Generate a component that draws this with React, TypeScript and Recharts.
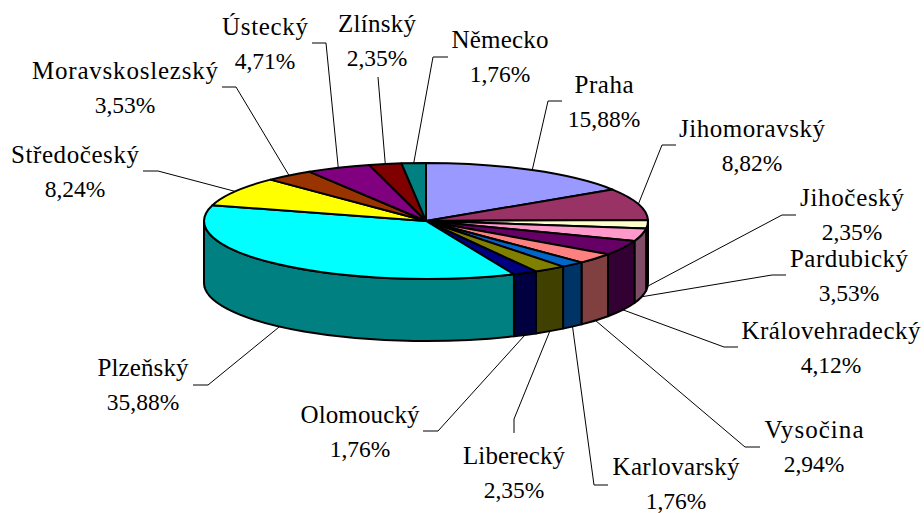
import React from 'react';
import { PieChart, Pie } from 'recharts';

const regions = ['Praha','Jihomoravský','Jihočeský','Pardubický','Královehradecký','Vysočina','Karlovarský','Liberecký','Olomoucký','Plzeňský','Středočeský','Moravskoslezský','Ústecký','Zlínský','Německo'];
const shares = [15.88,8.82,2.35,3.53,4.12,2.94,1.76,2.35,1.76,35.88,8.24,3.53,4.71,2.35,1.76];
const topColors = ['#9999FF','#993366','#FFFFCC','#FF99CC','#660066','#FF8080','#0066CC','#808000','#000080','#00FFFF','#FFFF00','#993300','#800080','#800000','#008080'];
const wallColors = ['#4D4D80','#4D1A33','#808066','#804D66','#330033','#804040','#003366','#404000','#000040','#008080','#808000','#4D1A00','#400040','#400000','#004040'];

// Label placement: text centre x, first baseline y, name width, leader-line bend points
const labelLayout = [
  { x: 604, y: 93, w: 59, pts: [[562,101],[548,101]] },
  { x: 752, y: 137, w: 146, pts: [[676,145],[662,145]] },
  { x: 852, y: 206, w: 104, pts: [[796,215],[782,215]] },
  { x: 849, y: 267, w: 118, pts: [[786,275],[772,275]] },
  { x: 831, y: 339, w: 179, pts: [[738,347],[724,347]] },
  { x: 814, y: 438, w: 99, pts: [[760,447],[745,447]] },
  { x: 676, y: 475, w: 127, pts: [[608,485],[594,485]] },
  { x: 514, y: 464, w: 102, pts: [[514,433],[514,419]] },
  { x: 360, y: 423, w: 119, pts: [[423,431],[438,431]] },
  { x: 143, y: 376, w: 91, pts: [[193,385],[208,385]] },
  { x: 75, y: 163, w: 128, pts: [[143,171],[158,171]] },
  { x: 125, y: 79, w: 186, pts: [[222,87],[236,87]] },
  { x: 265, y: 35, w: 86, pts: [[312,43],[326,43]] },
  { x: 377, y: 32, w: 78, pts: [[378,77]] },
  { x: 500, y: 48, w: 97, pts: [[448,57],[433,57]] },
];

const tableData = regions.map((name, i) => ({
  name,
  value: shares[i],
  fill: topColors[i],
  wall: wallColors[i],
  idx: i,
}));

const SQUASH = 58 / 222;
const DEPTH = 62;
const FONT = '"Liberation Serif", "Times New Roman", serif';

const pt = (cx: number, cy: number, rx: number, ry: number, deg: number) => {
  const a = (deg * Math.PI) / 180;
  return [cx + rx * Math.cos(a), cy - ry * Math.sin(a)];
};

const Slice3D = (props: any) => {
  const { cx, cy, outerRadius, startAngle, endAngle, fill, payload } = props;
  const rx = outerRadius;
  const ry = outerRadius * SQUASH;
  const hi = Math.max(startAngle, endAngle);
  const lo = Math.min(startAngle, endAngle);
  const [sx, sy] = pt(cx, cy, rx, ry, hi);
  const [ex, ey] = pt(cx, cy, rx, ry, lo);
  const large = hi - lo > 180 ? 1 : 0;
  const top = `M${cx},${cy} L${sx},${sy} A${rx},${ry} 0 ${large} 1 ${ex},${ey} Z`;
  const wHi = Math.min(hi, 0);
  const wLo = Math.max(lo, -180);
  let wall = null;
  if (wHi > wLo) {
    const [ax, ay] = pt(cx, cy, rx, ry, wHi);
    const [bx, by] = pt(cx, cy, rx, ry, wLo);
    const d = `M${ax},${ay} A${rx},${ry} 0 0 1 ${bx},${by} L${bx},${by + DEPTH} A${rx},${ry} 0 0 0 ${ax},${ay + DEPTH} Z`;
    wall = <path d={d} fill={payload?.wall ?? props.wall} stroke="#000" strokeWidth={2} strokeLinejoin="round" />;
  }
  return (
    <g>
      {wall}
      <path d={top} fill={fill} stroke="#000" strokeWidth={2} strokeLinejoin="round" />
    </g>
  );
};

const SliceLabel = (props: any) => {
  const { cx, cy, outerRadius, midAngle, index } = props;
  const layout = labelLayout[index];
  const rx = outerRadius;
  const ry = outerRadius * SQUASH;
  const [mx, my0] = pt(cx, cy, rx, ry, midAngle);
  const my = Math.sin((midAngle * Math.PI) / 180) < 0 ? my0 + DEPTH : my0;
  const points = [...layout.pts, [mx, my]].map((p) => p.join(',')).join(' ');
  return (
    <g>
      <polyline points={points} fill="none" stroke="#000" strokeWidth={1} />
      <text x={layout.x} y={layout.y} textAnchor="middle" fontFamily={FONT} fontSize={25} fill="#000" textLength={layout.w} lengthAdjust="spacing">
        {regions[index]}
      </text>
      <text x={layout.x} y={layout.y + 34} textAnchor="middle" fontFamily={FONT} fontSize={23.5} fill="#000">
        {shares[index].toFixed(2).replace('.', ',') + '%'}
      </text>
    </g>
  );
};

export default function App() {
  return (
    <div style={{ position: 'absolute', left: 0, top: 0, width: 924, height: 513, background: '#fff' }}>
      <PieChart width={924} height={513} margin={{ top: 0, right: 0, bottom: 0, left: 0 }}>
        <Pie
          data={tableData}
          dataKey="value"
          nameKey="name"
          cx={426}
          cy={221}
          innerRadius={0}
          outerRadius={222}
          startAngle={90}
          endAngle={-270}
          paddingAngle={0}
          isAnimationActive={false}
          shape={Slice3D}
          label={SliceLabel}
          labelLine={false}
        />
      </PieChart>
    </div>
  );
}
